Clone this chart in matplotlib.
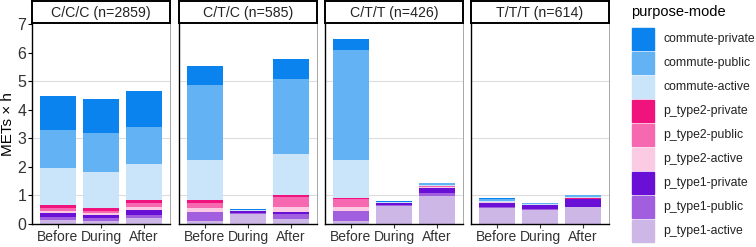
import numpy as np
import matplotlib.pyplot as plt
from matplotlib.patches import Rectangle

plt.rcParams['font.family'] = ['Liberation Sans', 'DejaVu Sans']

panels = ['C/C/C (n=2859)', 'C/T/C (n=585)', 'C/T/T (n=426)', 'T/T/T (n=614)']
periods = ['Before', 'During', 'After']

# stacking order from bottom to top
groups = ['p_type1-active', 'p_type1-public', 'p_type1-private',
          'p_type2-active', 'p_type2-public', 'p_type2-private',
          'commute-active', 'commute-public', 'commute-private']
colors = ['#cdb7e6', '#a15fe0', '#6a0fd6',
          '#fbcbe3', '#f668af', '#f0137e',
          '#cae4fa', '#63b2f4', '#0a83ee']

# values per panel: rows = groups (bottom->top), cols = Before, During, After
ccc = [[0.14, 0.12, 0.20],
       [0.12, 0.08, 0.12],
       [0.11, 0.12, 0.16],
       [0.10, 0.08, 0.13],
       [0.09, 0.07, 0.11],
       [0.12, 0.08, 0.12],
       [1.27, 1.28, 1.26],
       [1.35, 1.35, 1.31],
       [1.17, 1.19, 1.25]]
ctc = [[0.12, 0.36, 0.16],
       [0.29, 0.02, 0.18],
       [0.02, 0.07, 0.09],
       [0.12, 0.005, 0.18],
       [0.17, 0.005, 0.32],
       [0.12, 0.005, 0.08],
       [1.39, 0.01, 1.43],
       [2.65, 0.03, 2.63],
       [0.64, 0.01, 0.69]]
ctt = [[0.12, 0.64, 0.98],
       [0.32, 0.02, 0.12],
       [0.02, 0.06, 0.17],
       [0.15, 0.005, 0.03],
       [0.26, 0.005, 0.02],
       [0.03, 0.005, 0.01],
       [1.34, 0.02, 0.05],
       [3.85, 0.03, 0.04],
       [0.37, 0.005, 0.01]]
ttt = [[0.55, 0.49, 0.58],
       [0.03, 0.03, 0.03],
       [0.17, 0.13, 0.26],
       [0.01, 0.01, 0.01],
       [0.01, 0.01, 0.01],
       [0.01, 0.01, 0.01],
       [0.04, 0.02, 0.04],
       [0.06, 0.02, 0.07],
       [0.02, 0.01, 0.02]]
data = [ccc, ctc, ctt, ttt]

W, H = 756, 247
fig = plt.figure(figsize=(W / 100, H / 100), dpi=100)

lefts = [32, 179, 325, 471]
pw = 138
top_px, bot_px = 24, 224
x = np.arange(len(periods))

for i, (name, vals) in enumerate(zip(panels, data)):
    ax = fig.add_axes([lefts[i] / W, (H - bot_px) / H, pw / W, (bot_px - top_px) / H])
    vals = np.array(vals)
    bottom = np.zeros(len(periods))
    for g in range(len(groups)):
        ax.bar(x, vals[g], 0.82, bottom=bottom, color=colors[g], linewidth=0)
        bottom += vals[g]
    ax.set_xlim(-0.6, 2.6)
    ax.set_ylim(0, 7)
    ax.set_yticks(range(8))
    for gy in [1, 3, 5]:
        ax.axhline(gy, color='#dddddd', lw=0.8, zorder=0)
    ax.set_xticks(x)
    ax.set_xticklabels(periods, fontsize=10, color='#333333')
    ax.tick_params(axis='x', length=3, width=0.8, pad=1, color='#333333')
    if i == 0:
        ax.tick_params(axis='y', length=3, width=0.8, labelsize=11.5, labelcolor='#333333', pad=1)
        ax.set_ylabel('METs × h', fontsize=11, labelpad=2)
    else:
        ax.tick_params(axis='y', length=0, labelleft=False)
    for s in ['left', 'bottom']:
        ax.spines[s].set_color('black')
        ax.spines[s].set_linewidth(1.0)
    ax.spines['right'].set_color('#999999')
    ax.spines['right'].set_linewidth(0.6)
    ax.spines['top'].set_visible(False)

    # facet strip
    sx = ax.inset_axes([0, 1.005, 1, 22 / 200])
    sx.set_xticks([])
    sx.set_yticks([])
    for s in sx.spines.values():
        s.set_linewidth(1.4)
        s.set_color('black')
    sx.text(0.5, 0.45, name, ha='center', va='center', fontsize=10.2, color='#222222')

# legend
fig.text(631 / W, (H - 12) / H, 'purpose-mode', fontsize=10.5, va='center', ha='left')
leg_order = list(range(len(groups)))[::-1]
for k, g in enumerate(leg_order):
    y0 = 28 + k * 24
    fig.patches.append(Rectangle((632 / W, (H - y0 - 22) / H), 22 / W, 22 / H,
                                 transform=fig.transFigure, color=colors[g]))
    fig.text(663 / W, (H - y0 - 11) / H, groups[g], fontsize=8.8, va='center', ha='left',
             color='#222222')

fig.savefig('out.png', dpi=100)
